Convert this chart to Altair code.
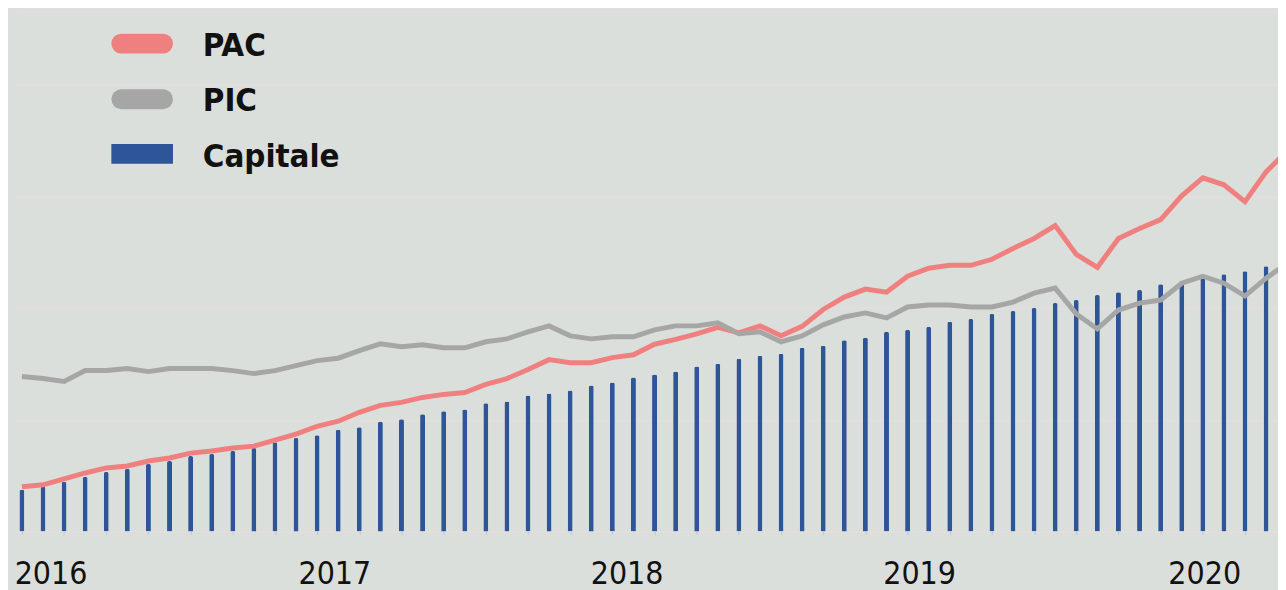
import altair as alt
import pandas as pd

# ---- data ----
period = list(range(61))
capitale = [373, 400, 444, 489, 533, 560, 604, 631, 676, 693, 720, 747, 800, 836, 862,
            911, 933, 982, 1004, 1049, 1076, 1093, 1147, 1164, 1218, 1236, 1262, 1307, 1333, 1378,
            1404, 1431, 1476, 1502, 1547, 1573, 1591, 1644, 1662, 1711, 1733, 1787, 1804, 1831, 1876,
            1902, 1947, 1973, 2000, 2044, 2071, 2116, 2142, 2160, 2213, 2240, 2267, 2302, 2329, 2373]
pac = [400, 418, 471, 524, 569, 587, 631, 658, 702, 720, 747, 764, 818, 871, 942,
       987, 1067, 1129, 1156, 1200, 1227, 1244, 1316, 1369, 1449, 1538, 1511, 1511, 1556, 1582,
       1676, 1720, 1769, 1827, 1778, 1840, 1751, 1836, 1987, 2098, 2169, 2142, 2284, 2356, 2382,
       2382, 2436, 2533, 2622, 2738, 2480, 2364, 2622, 2711, 2791, 3004, 3164, 3102, 2951, 3218, 3404]
pic = [1387, 1369, 1342, 1440, 1440, 1458, 1431, 1458, 1458, 1458, 1440, 1413, 1440, 1484, 1529,
       1551, 1618, 1680, 1653, 1671, 1644, 1644, 1698, 1724, 1787, 1840, 1751, 1724, 1742, 1742,
       1804, 1840, 1840, 1867, 1769, 1787, 1698, 1751, 1849, 1920, 1956, 1911, 2009, 2027, 2027,
       2009, 2009, 2053, 2133, 2178, 1947, 1813, 1982, 2044, 2071, 2222, 2284, 2222, 2107, 2267, 2400]
years = ["2016", "2017", "2018", "2019", "2020"]
year_pos = [1.38, 14.84, 28.70, 42.57, 56.09]
grid_values = [0, 1000, 2000, 3000, 4000, 4650]
series = ["PAC", "PIC"]
legend_labels = ["PAC", "PIC", "Capitale"]

# ---- styles ----
BG = "#dadfdb"
GRID = "#e3dede"
BLUE = "#2e5597"
CORAL = "#f08080"
GREY = "#a6a6a6"
FONT = "DejaVu Sans Condensed, Liberation Sans Narrow, sans-serif"

bars_df = pd.DataFrame({"period": period[:60], "capitale": capitale})
lines_df = pd.DataFrame({
    "period": period * 2,
    "value": pac + pic,
    "serie": [series[0]] * len(pac) + [series[1]] * len(pic),
})
years_df = pd.DataFrame({"year": years, "pos": year_pos})
one = pd.DataFrame({"k": [0]})

xscale = alt.Scale(domain=[-0.047, 59.33], nice=False, zero=False)
yscale = alt.Scale(domain=[0, 4650], nice=False, zero=True)

bars = alt.Chart(bars_df).mark_bar(
    size=5, color=BLUE, cornerRadiusTopLeft=2, cornerRadiusTopRight=2
).encode(
    x=alt.X("period:Q", scale=xscale,
            axis=alt.Axis(values=period[:60], labels=False, domain=False, grid=False,
                          ticks=True, tickSize=3, tickColor="#bcc6d8", tickWidth=1, title=None)),
    y=alt.Y("capitale:Q", scale=yscale,
            axis=alt.Axis(values=grid_values, labels=False, ticks=False, domain=False,
                          grid=True, gridColor=GRID, gridWidth=2, title=None)),
)

lines = alt.Chart(lines_df).mark_line(strokeWidth=5, clip=True, strokeJoin="miter").encode(
    x=alt.X("period:Q", scale=xscale),
    y=alt.Y("value:Q", scale=yscale),
    color=alt.Color("serie:N", scale=alt.Scale(domain=series, range=[CORAL, GREY]), legend=None),
    order=alt.Order("period:Q"),
)

year_text = alt.Chart(years_df).mark_text(
    fontSize=32, font=FONT, baseline="alphabetic", align="center", color="#111111"
).encode(
    x=alt.X("pos:Q", scale=xscale),
    y=alt.value(576),
    text="year:N",
)

# manual legend
leg_pac = alt.Chart(one).mark_rule(strokeWidth=20, strokeCap="round", color=CORAL).encode(
    x=alt.value(106), x2=alt.value(148), y=alt.value(32))
leg_pic = alt.Chart(one).mark_rule(strokeWidth=20, strokeCap="round", color=GREY).encode(
    x=alt.value(106), x2=alt.value(148), y=alt.value(88))
leg_cap = alt.Chart(one).mark_rule(strokeWidth=20, strokeCap="butt", color=BLUE).encode(
    x=alt.value(96), x2=alt.value(158), y=alt.value(143))

def leg_text(label, y):
    return alt.Chart(one).mark_text(
        text=label, fontSize=33, font=FONT, fontWeight="bold", align="left",
        baseline="alphabetic", color="#111111"
    ).encode(x=alt.value(188), y=alt.value(y))

chart = alt.layer(
    bars, lines, year_text,
    leg_pac, leg_pic, leg_cap,
    leg_text(legend_labels[0], 44), leg_text(legend_labels[1], 100), leg_text(legend_labels[2], 156),
).properties(
    width=1270, height=523,
    padding={"left": 8, "top": 2, "right": 0, "bottom": 60},
    autosize=alt.AutoSizeParams(type="none"),
    background=BG,
).configure_view(stroke=None)

chart.save("out.html", embed_options={"renderer": "svg", "actions": False})
